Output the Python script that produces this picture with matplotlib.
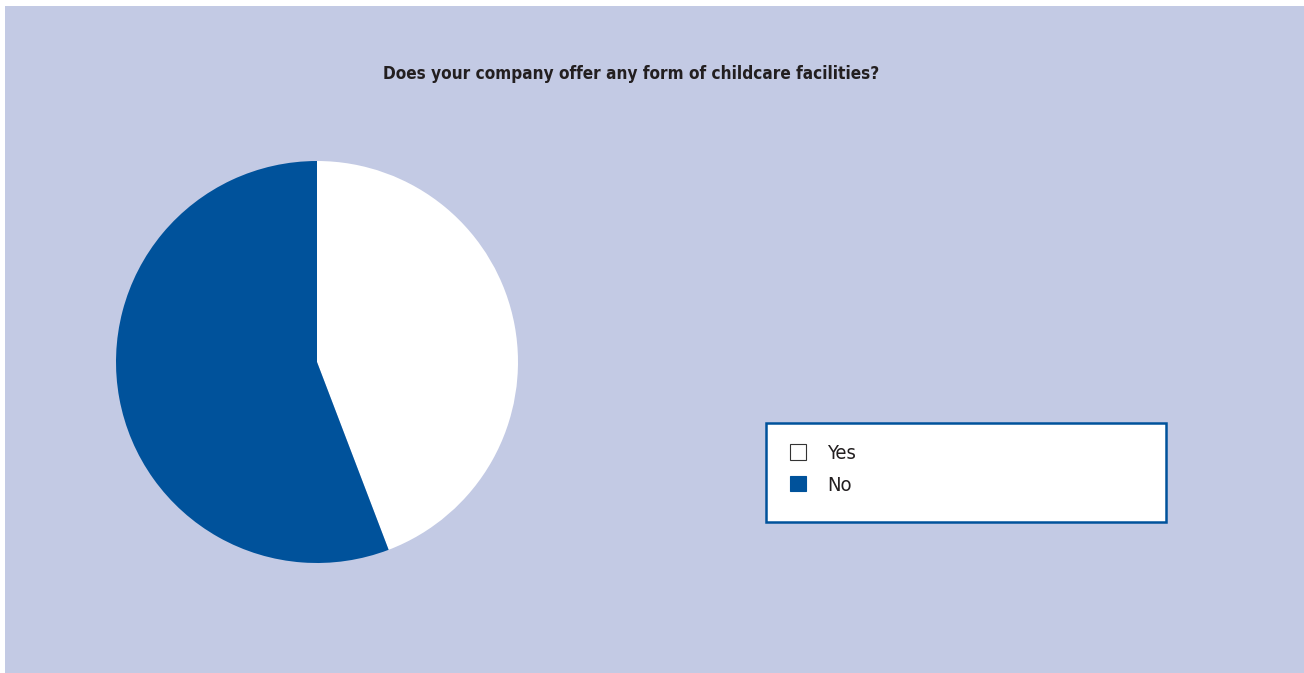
import matplotlib.pyplot as plt
from matplotlib.patches import Rectangle, Patch

labels = ['Yes', 'No']
shares = [44.2, 55.8]
colors = ['#FFFFFF', '#00529B']

title = 'Does your company offer any form of childcare facilities?'
bg = '#C3CAE4'

plt.rcParams['font.family'] = ['DejaVu Sans']
plt.rcParams['font.stretch'] = 'condensed'

W, H = 1304, 673
fig = plt.figure(figsize=(W / 100, H / 100), dpi=100, facecolor='white')

# blue panel behind everything
fig.patches.append(Rectangle((5 / W, 0), 1 - 5 / W, 1 - 6 / H,
                             transform=fig.transFigure, facecolor=bg,
                             edgecolor='none', zorder=-2))

fig.text(631 / W, 1 - 74 / H, title, ha='center', va='center',
         fontsize=12.3, fontweight='bold', fontstretch='condensed',
         color='#231F20')

ax = fig.add_axes([116 / W, 110 / H, 402 / W, 402 / H])
ax.set_zorder(2)
ax.pie(shares, colors=colors, startangle=90, counterclock=False,
       wedgeprops=dict(linewidth=0))
ax.set_xlim(-1, 1)
ax.set_ylim(-1, 1)
ax.set_aspect('equal')
ax.axis('off')

# legend box
fig.patches.append(Rectangle((766 / W, 1 - 522 / H), 400 / W, 99 / H,
                             transform=fig.transFigure, facecolor='white',
                             edgecolor='#00529B', linewidth=1.8, zorder=-1))
handles = [Patch(facecolor=colors[0], edgecolor='#333333', linewidth=0.8),
           Patch(facecolor=colors[1], edgecolor=colors[1], linewidth=0.8)]
leg = fig.legend(handles, labels, loc='upper left',
                 bbox_to_anchor=(772 / W, 1 - 426 / H), frameon=False,
                 handlelength=0.8, handleheight=0.8,
                 handletextpad=1.05, labelspacing=0.62, labelcolor='#231F20',
                 prop=dict(size=14.5, stretch='condensed'))
leg.set_zorder(3)

fig.savefig('out.png', dpi=100, facecolor='white')
